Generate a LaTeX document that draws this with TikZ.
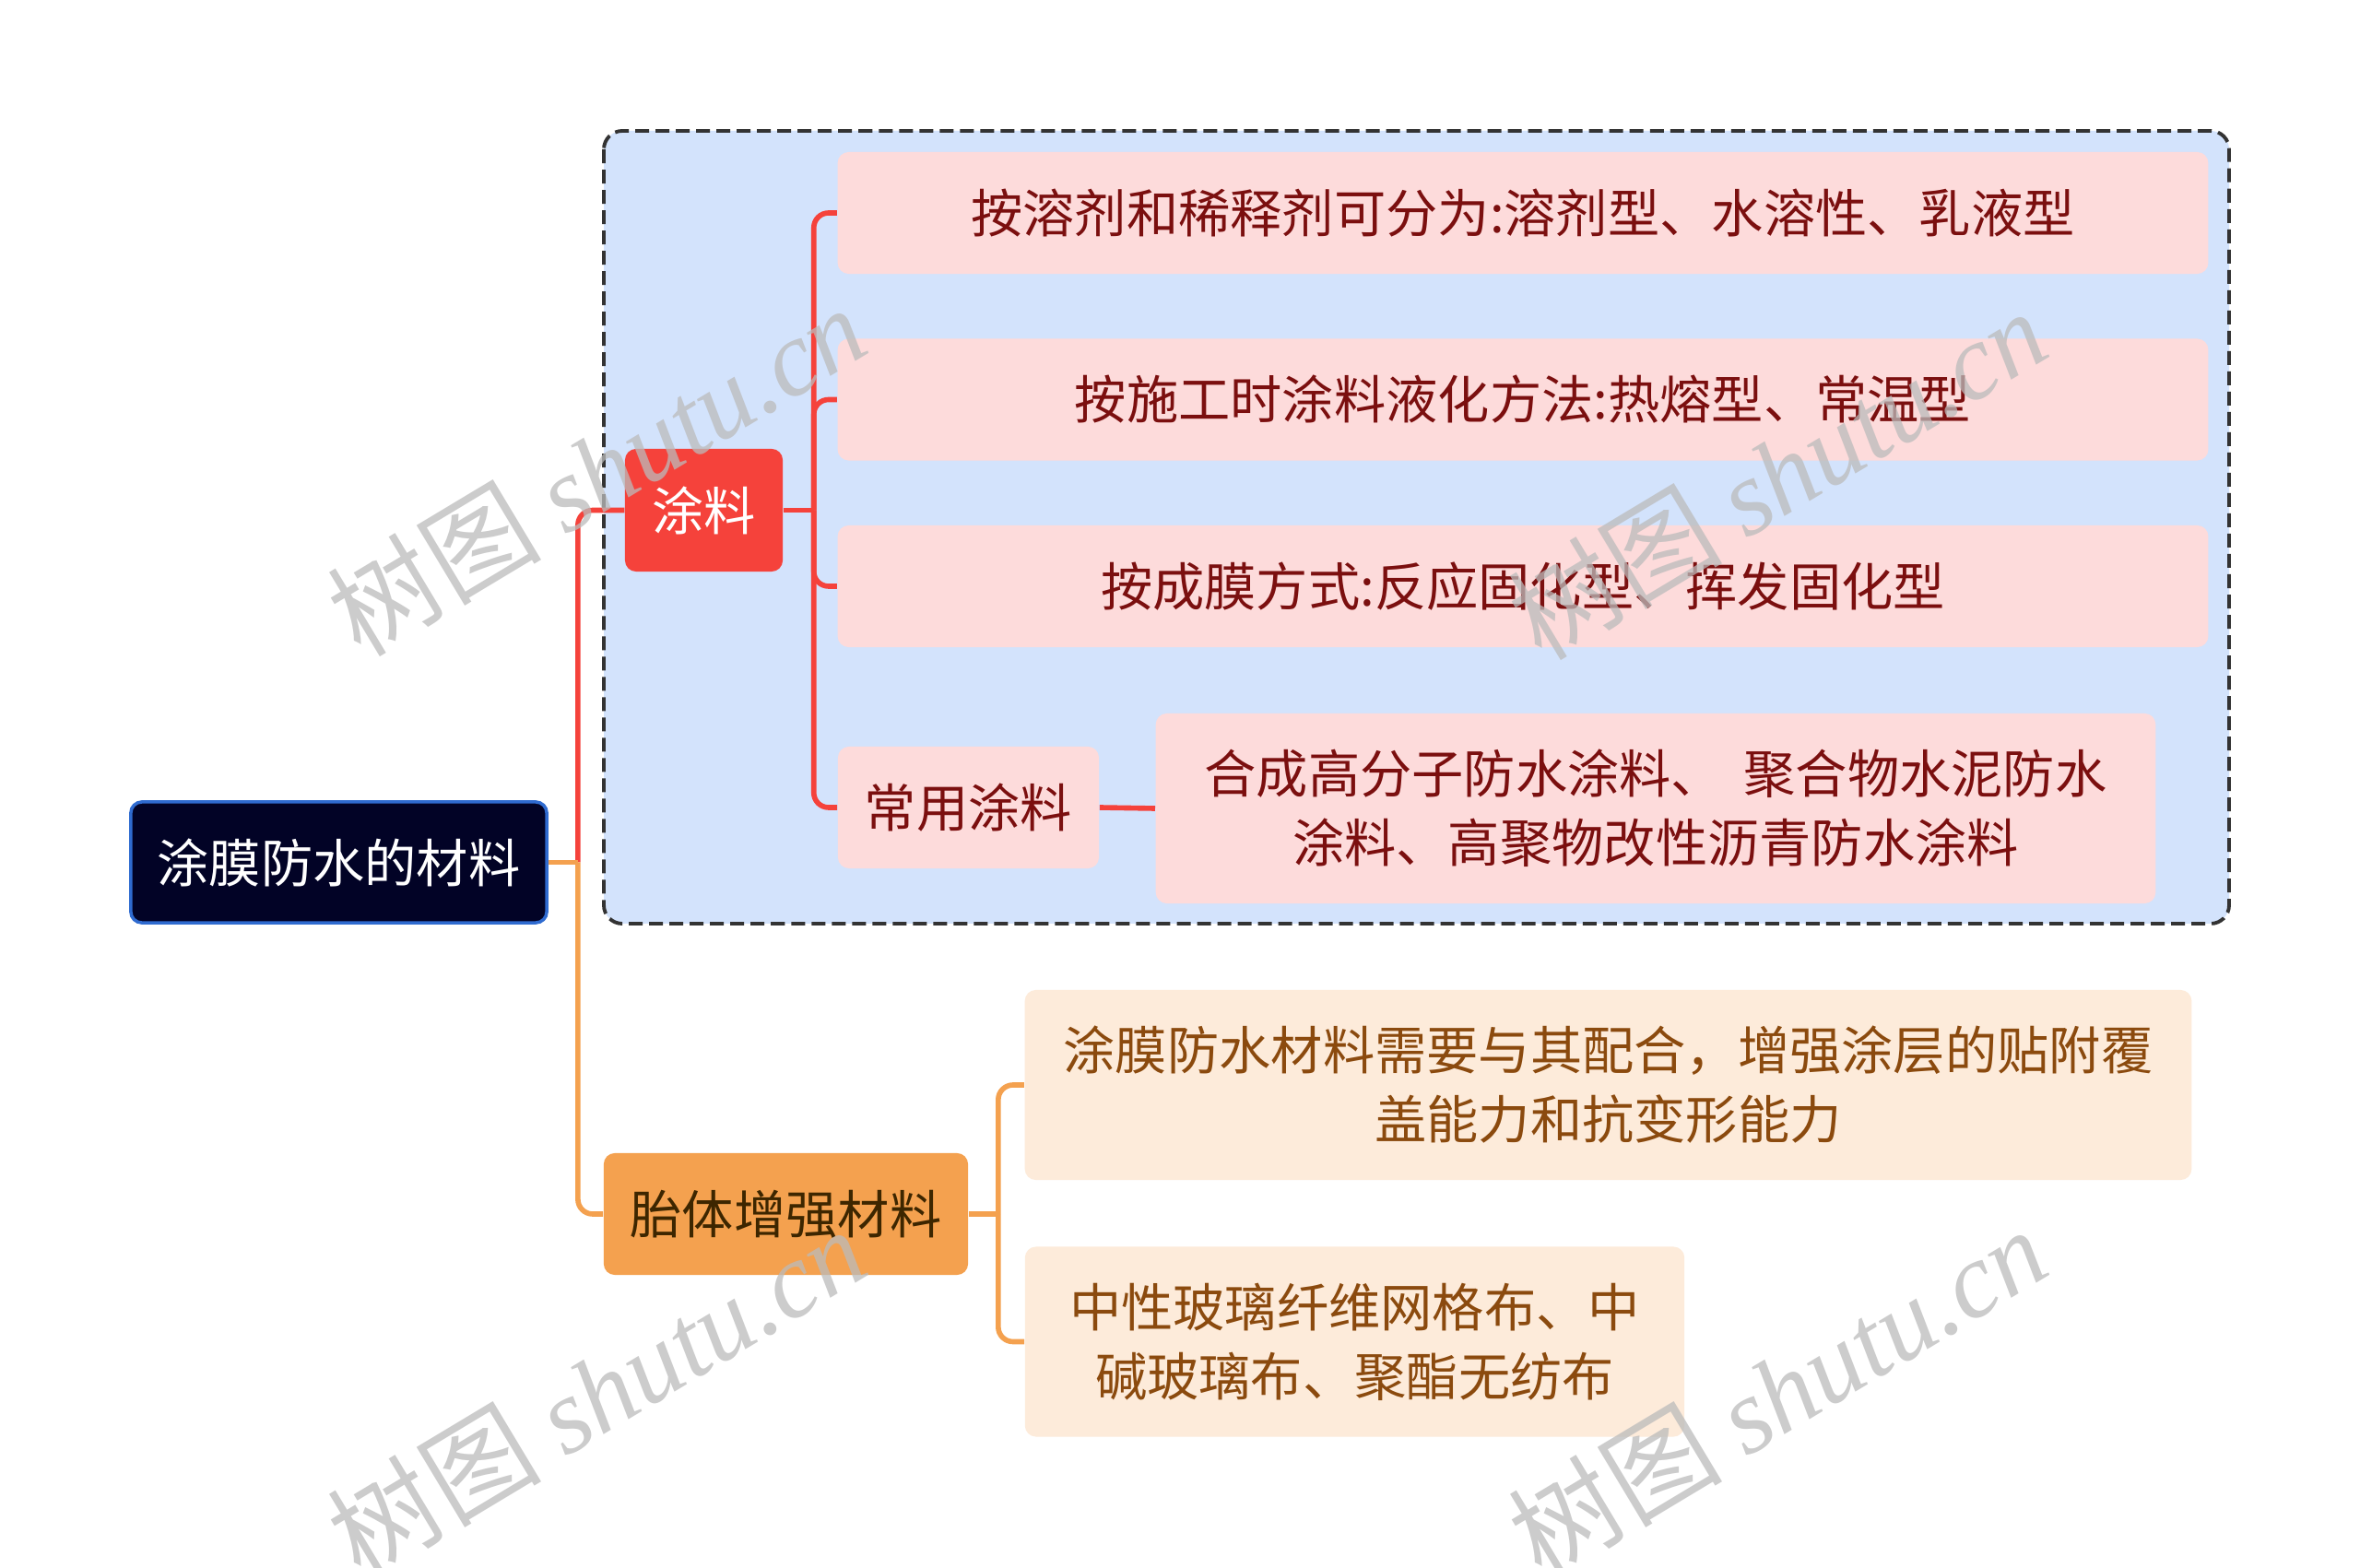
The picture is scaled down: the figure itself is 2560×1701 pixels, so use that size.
\documentclass[tikz,border=0pt]{standalone}
\usepackage{fontspec}
\setmainfont{Noto Sans CJK SC}
\newfontfamily\wmserif{Liberation Serif}
\usetikzlibrary{calc}
\definecolor{rootc}{HTML}{020326}
\definecolor{rootb}{HTML}{2F6BD0}
\definecolor{groupc}{HTML}{D3E3FC}
\definecolor{redc}{HTML}{F5423B}
\definecolor{pinkc}{HTML}{FDDBDB}
\definecolor{pinkt}{HTML}{7B0F0F}
\definecolor{orangec}{HTML}{F4A14F}
\definecolor{peachc}{HTML}{FDEBDA}
\definecolor{peacht}{HTML}{8B4A0E}
\definecolor{taitit}{HTML}{3D2600}
\definecolor{wmc}{HTML}{BBBBBB}
\begin{document}
\begin{tikzpicture}[x=0.01cm,y=-0.01cm,
  base/.style={rounded corners=0.12cm, inner sep=0pt, align=center, font=\fontsize{16}{21.3}\selectfont},
  rootbox/.style={base, fill=rootc, draw=rootb, line width=1pt, text=white, minimum width=4.51cm, minimum height=1.31cm},
  redbox/.style={base, fill=redc, text=white, minimum width=1.71cm, minimum height=1.33cm},
  pinkbox/.style={base, fill=pinkc, text=pinkt, minimum height=1.32cm},
  orbox/.style={base, fill=orangec, text=taitit, minimum width=3.95cm, minimum height=1.32cm},
  peachbox/.style={base, fill=peachc, text=peacht, minimum height=2.06cm},
  redline/.style={draw=redc, line width=1.6pt, rounded corners=0.16cm},
  orline/.style={draw=orangec, line width=1.6pt, rounded corners=0.16cm},
  groupbox/.style={draw=black!80, fill=groupc, line width=1.1pt, dash pattern=on 0.15cm off 0.07cm, rounded corners=0.2cm},
  wm/.style={text=wmc, opacity=0.75, font=\fontsize{33}{33}\selectfont, rotate=31}
]
\useasboundingbox (0,0) rectangle (2560,1701);
\fill[white] (0,0) rectangle (2560,1701);

% group box
\draw[groupbox] (655,142) rectangle (2418,1002);

% nodes
\node[rootbox] (root) at (367.5,935.5) {涂膜防水的材料};
\node[redbox] (tl) at (763.5,553.5) {涂料};
\node[pinkbox, minimum width=14.86cm] (b1) at (1652,231) {按溶剂和稀释剂可分为:溶剂型、水溶性、乳液型};
\node[pinkbox, minimum width=14.86cm] (b2) at (1652,433.5) {按施工时涂料液化方法:热熔型、常温型};
\node[pinkbox, minimum width=14.86cm] (b3) at (1652,636) {按成膜方式:反应固化型、挥发固化型};
\node[pinkbox, minimum width=2.83cm] (cy) at (1050.5,876) {常用涂料};
\node[pinkbox, minimum width=10.84cm, minimum height=2.06cm] (dt) at (1796,877) {合成高分子防水涂料、\hspace{0.4em}聚合物水泥防水\\涂料、高聚物改性沥青防水涂料};
\node[orbox] (tt) at (852.5,1317) {胎体增强材料};
\node[peachbox, minimum width=12.65cm] (ba) at (1744.5,1177) {涂膜防水材料需要与其配合，增强涂层的贴附覆\\盖能力和抗变形能力};
\node[peachbox, minimum width=7.15cm] (bb) at (1469.5,1455.5) {中性玻璃纤维网格布、中\\碱玻璃布、聚酯无纺布};

% junctions
\coordinate (rj) at ($(root.east)+(32,0)$);
\coordinate (tj) at ($(tl.east)+(33,0)$);
\coordinate (aj) at ($(tt.east)+(32,0)$);

% connectors
\draw[redline] (rj) |- (tl.west);
\draw[orline] (rj) |- (tt.west);
\draw[orline] (root.east) -- (rj);
\draw[redline] (tl.east) -- (tj);
\draw[redline] (tj) |- (b1.west);
\draw[redline] (tj) |- (b2.west);
\draw[redline] (tj) |- (b3.west);
\draw[redline] (tj) |- (cy.west);
\draw[redline] (cy.east) -- (dt.west);
\draw[orline] (tt.east) -- (aj);
\draw[orline] (aj) |- (ba.west);
\draw[orline] (aj) |- (bb.west);

% watermarks
\node[wm] (wm1) at (647,510) {树图 {\wmserif\itshape shutu.cn}};
\node[wm] (wm2) at (1928,514) {树图 {\wmserif\itshape shutu.cn}};
\node[wm] (wm3) at (647,1510) {树图 {\wmserif\itshape shutu.cn}};
\node[wm] (wm4) at (1928,1510) {树图 {\wmserif\itshape shutu.cn}};
\end{tikzpicture}
\end{document}
